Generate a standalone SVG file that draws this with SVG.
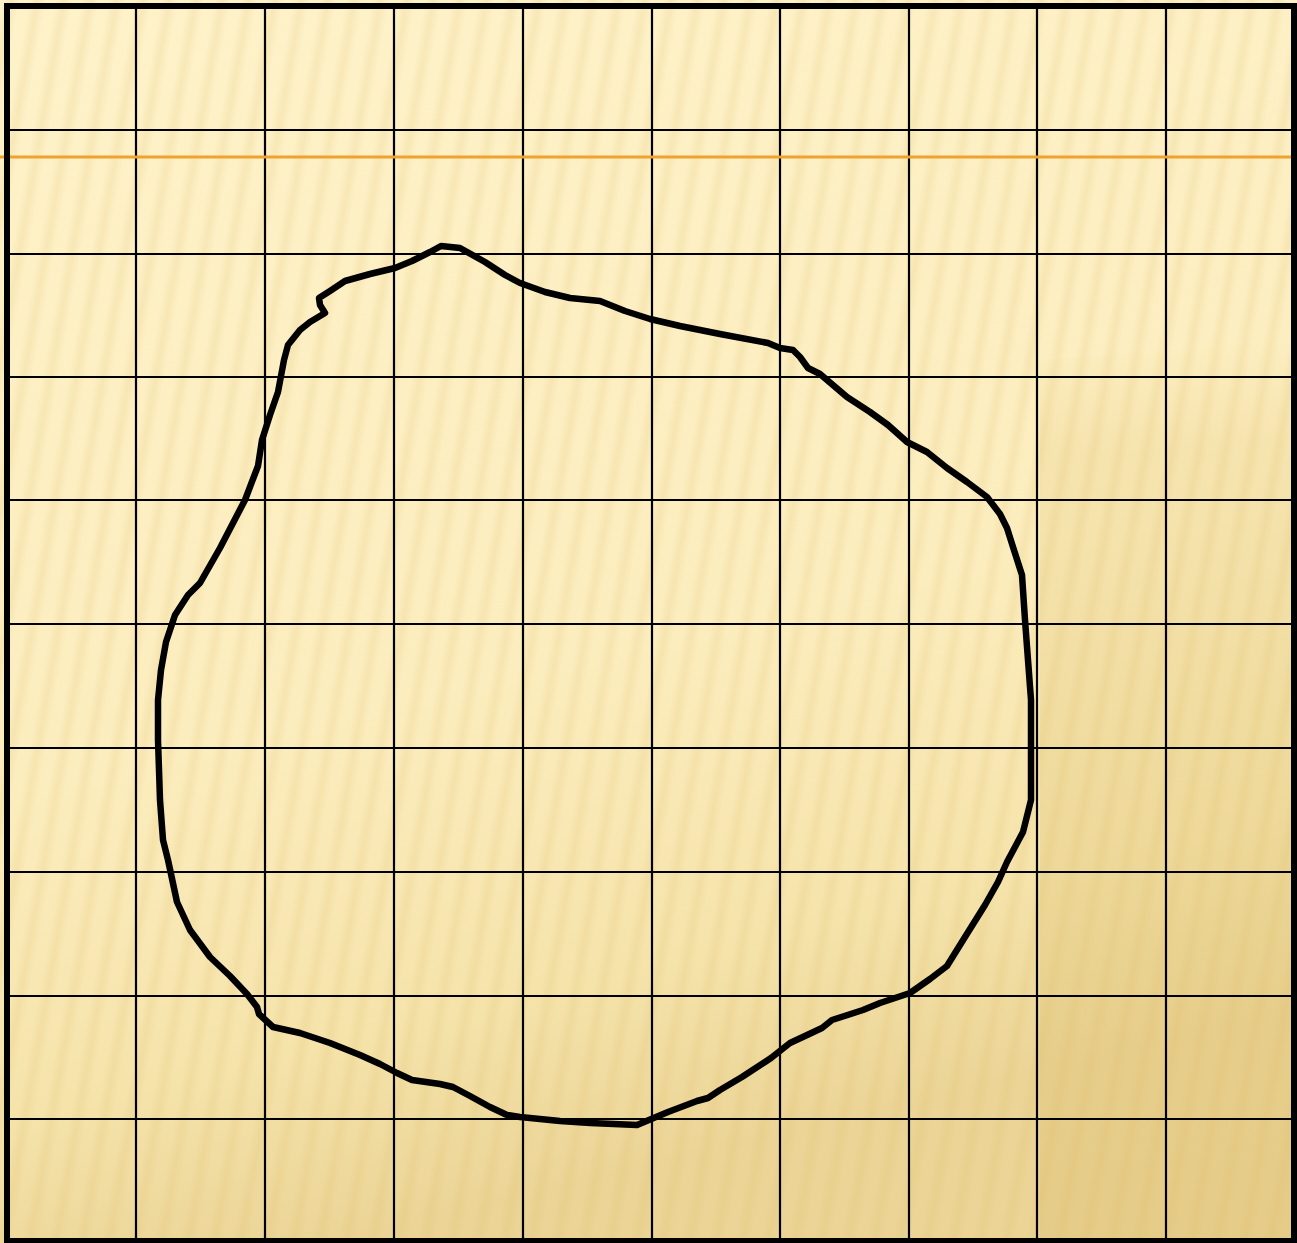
<svg xmlns="http://www.w3.org/2000/svg" width="1297" height="1243" viewBox="0 0 1297 1243">
  <defs>
    <linearGradient id="bg" x1="0" y1="0" x2="0.25" y2="1">
      <stop offset="0" stop-color="#FEF2C9"/>
      <stop offset="0.6" stop-color="#FCEDBE"/>
      <stop offset="0.85" stop-color="#F5E3AA"/>
      <stop offset="1" stop-color="#EBD496"/>
    </linearGradient>
    <linearGradient id="shade" x1="0" y1="0" x2="0" y2="1">
      <stop offset="0" stop-color="#E3C77C" stop-opacity="0"/>
      <stop offset="0.12" stop-color="#E3C77C" stop-opacity="0.25"/>
      <stop offset="1" stop-color="#DCBF72" stop-opacity="0.4"/>
    </linearGradient>
    <linearGradient id="stripeG" x1="0" y1="0" x2="1" y2="0">
      <stop offset="0" stop-color="#D9B660" stop-opacity="0"/>
      <stop offset="0.5" stop-color="#D9B660" stop-opacity="0.16"/>
      <stop offset="1" stop-color="#D9B660" stop-opacity="0"/>
    </linearGradient>
    <pattern id="stripes" width="26" height="200" patternUnits="userSpaceOnUse" patternTransform="rotate(10)">
      <rect x="3" y="0" width="16" height="200" fill="url(#stripeG)"/>
    </pattern>
    <style>
      .grid { stroke: #000; stroke-width: 2.2; fill: none; }
      .frame { stroke: #000; stroke-width: 6; fill: none; }
      .blob { stroke: #000; stroke-width: 6.5; fill: none; stroke-linejoin: round; stroke-linecap: round; }
    </style>
  </defs>

  <g id="background">
    <rect x="0" y="0" width="1297" height="1243" fill="url(#bg)"/>
    <path d="M1040 360 L1290 340 L1297 1243 L1040 1243 Z" fill="url(#shade)"/>
    <rect x="0" y="0" width="1297" height="1243" fill="url(#stripes)"/>
  </g>

  <g id="grid">
    <path class="grid" d="M136 6V1241 M265 6V1241 M394 6V1241 M523 6V1241 M652 6V1241 M780 6V1241 M909 6V1241 M1037 6V1241 M1166 6V1241"/>
    <path class="grid" d="M7 130H1294 M7 254H1294 M7 377H1294 M7 500H1294 M7 624H1294 M7 748H1294 M7 872H1294 M7 996H1294 M7 1119H1294"/>
  </g>

  <line id="orange-line" x1="0" y1="157" x2="1292" y2="157" stroke="#F0A22E" stroke-width="3"/>

  <rect id="frame" class="frame" x="7" y="6" width="1287" height="1235"/>

  <path id="outline" class="blob" d="M441 246 L460 248 L485 262 L505 275 L520 283 L545 292 L570 298 L600 301 L625 311 L650 319 L680 326 L720 334 L768 343 L780 348 L793 350 L800 357 L808 368 L820 374 L847 397 L870 412 L888 425 L907 442 L927 452 L947 468 L967 482 L987 497 L1000 514 L1007 528 L1013 547 L1022 575 L1025 620 L1028 660 L1031 700 L1031 760 L1031 800 L1023 832 L1007 862 L998 882 L985 905 L965 937 L947 966 L930 979 L910 993 L880 1003 L863 1010 L832 1020 L822 1028 L805 1036 L790 1043 L771 1058 L765 1062 L742 1077 L720 1090 L708 1098 L697 1101 L668 1112 L637 1125 L590 1123 L560 1121 L520 1117 L507 1115 L490 1107 L470 1096 L453 1087 L440 1084 L412 1080 L397 1073 L380 1064 L360 1055 L330 1043 L300 1033 L273 1027 L259 1014 L257 1007 L247 994 L230 976 L210 957 L190 930 L177 902 L168 860 L163 840 L160 800 L158 740 L158 700 L161 670 L166 642 L175 615 L188 595 L200 583 L220 548 L245 500 L258 466 L262 440 L270 415 L278 392 L284 360 L288 345 L300 330 L310 322 L325 313 L320 305 L319 298 L330 291 L345 281 L370 274 L395 268 L412 261 L430 252 Z"/>
</svg>
